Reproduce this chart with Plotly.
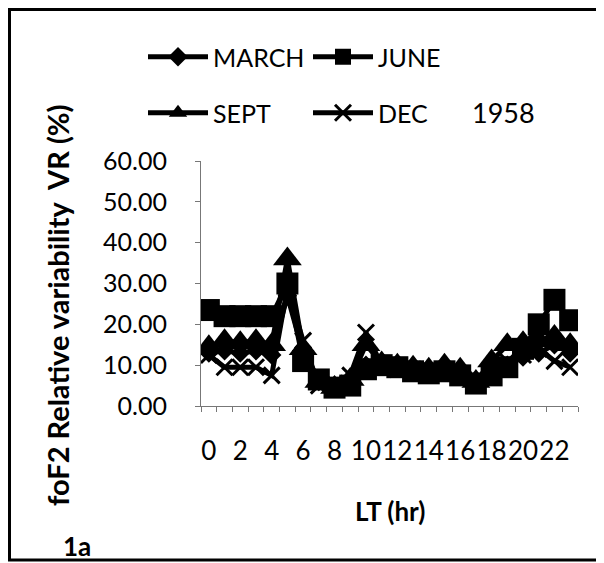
import plotly.graph_objects as go

hours = list(range(24))
tick_hours = [0, 2, 4, 6, 8, 10, 12, 14, 16, 18, 20, 22]
tick_text = [str(h) for h in tick_hours]
y_ticks = [0, 10, 20, 30, 40, 50, 60]

march = [13, 13.5, 13, 13.5, 12.5, 27, 13, 6, 5, 6, 10, 10, 9.5, 9, 8.5, 9, 8, 6, 8, 10, 12, 13, 15, 13]
june = [23.5, 22, 22, 22, 22, 30, 11, 6.5, 4.5, 5, 9, 10, 9.5, 8.5, 8, 8.5, 7.5, 5.5, 7.5, 9.5, 14, 20, 26, 21]
sept = [14.5, 16, 15.5, 16, 15, 36, 14, 6, 4.5, 6.5, 15, 10.5, 10, 9.5, 9, 10, 9, 6, 11, 15, 15.5, 16, 17, 15]
dec = [12.5, 9.5, 9.5, 9.5, 7.5, 29, 16, 5, 5.5, 7.5, 18, 10, 9, 9, 8, 8, 7.5, 6, 8, 11, 12.5, 14, 11, 9.5]

FONT = "Lato"
OFF = 8                     # browser body margin: figure starts 8 px into the page
PAGE_W, PAGE_H = 604, 563
W, H = PAGE_W - OFF, PAGE_H - OFF
# plot area in page pixels
PX0, PX1, PY0, PY1 = 201, 578, 161, 406
L, R, T, B = PX0 - OFF, PAGE_W - PX1, PY0 - OFF, PAGE_H - PY1
PW, PH = PX1 - PX0, PY1 - PY0

def px_x(p):
    return (p - PX0) / PW

def px_y(p):
    return (PY1 - p) / PH

fig = go.Figure()
series = [
    ("MARCH", march, dict(symbol="diamond", size=15, color="black"), "legend"),
    ("JUNE", june, dict(symbol="square", size=22, color="black"), "legend"),
    ("SEPT", sept, dict(symbol="triangle-up", size=25, color="black"), "legend2"),
    ("DEC", dec, dict(symbol="x-thin", size=16, color="black", line=dict(width=3, color="black")), "legend2"),
]
for name, vals, mk, lg in series:
    fig.add_trace(go.Scatter(
        x=hours, y=vals, name=name, mode="lines+markers",
        line=dict(color="black", width=5), marker=mk, legend=lg,
    ))

legend_common = dict(
    orientation="h", xref="container", yref="container",
    xanchor="left", yanchor="middle", itemwidth=60, entrywidth=90,
    font=dict(family=FONT, size=25, color="black"), bgcolor="rgba(0,0,0,0)",
    traceorder="normal",
)

def ann(text, x, y, size, angle=0):
    return dict(text=text, x=px_x(x), y=px_y(y), xref="paper", yref="paper",
                xanchor="center", yanchor="middle", textangle=angle,
                showarrow=False, font=dict(family=FONT, size=size, color="black"))

fig.update_layout(
    width=W, height=H,
    margin=dict(l=L, r=R, t=T, b=B, pad=0, autoexpand=False),
    paper_bgcolor="white", plot_bgcolor="white",
    font=dict(family=FONT, color="black"),
    legend=dict(x=(143 - OFF) / W, y=1 - (57 - OFF) / H, **legend_common),
    legend2=dict(x=(143 - OFF) / W, y=1 - (113 - OFF) / H, **legend_common),
    xaxis=dict(
        range=[-0.5, 23.5], tickmode="array", tickvals=tick_hours, ticktext=tick_text,
        ticks="", tickangle=0, showgrid=False, zeroline=False, automargin=False,
        showline=True, linecolor="#777", linewidth=1,
        tickfont=dict(family=FONT, size=26, color="black"), ticklabelstandoff=22,
        minor=dict(tickmode="array", tickvals=[h - 0.5 for h in hours] + [23.5],
                   ticks="outside", ticklen=5, tickcolor="#777", tickwidth=1),
    ),
    yaxis=dict(
        range=[0, 60], tickmode="array", tickvals=y_ticks, tickformat=".2f",
        ticks="outside", ticklen=5, tickcolor="#777", showgrid=False, zeroline=False,
        automargin=False,
        showline=True, linecolor="#777", linewidth=1,
        tickfont=dict(family=FONT, size=25, color="black"), ticklabelstandoff=23,
    ),
    annotations=[
        ann("<b>foF2 Relative variability  VR (%)</b>", 57, 305, 29, -90),
        ann("<b>LT (hr)</b>", 390, 511, 26),
        ann("<b>1a</b>", 77, 546, 26),
        ann("1958", 503, 112, 27),
    ],
    shapes=[
        dict(type="rect", xref="paper", yref="paper",
             x0=px_x(9.5), x1=px_x(601), y0=px_y(560), y1=px_y(9.5),
             line=dict(color="black", width=3), layer="below"),
    ],
)

fig.write_html("out.html")
